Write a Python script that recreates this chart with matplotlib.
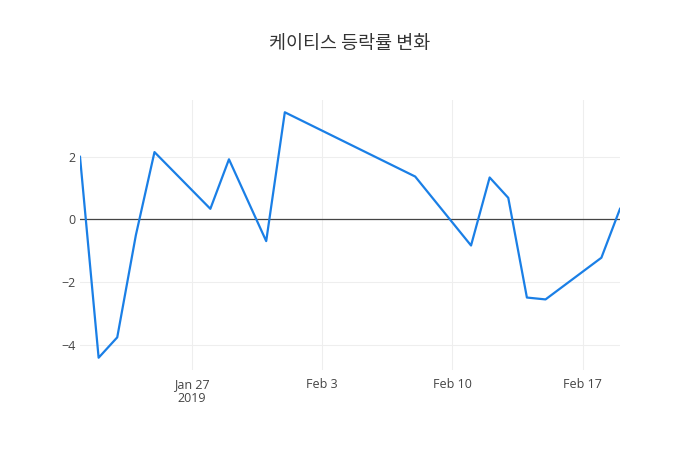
import matplotlib
matplotlib.use('Agg')
import matplotlib.pyplot as plt
import pandas as pd

plt.rcParams['font.family'] = ['Open Sans', 'Noto Sans CJK KR', 'DejaVu Sans']

dates = pd.to_datetime(['2019-01-21', '2019-01-22', '2019-01-23', '2019-01-24', '2019-01-25',
                        '2019-01-28', '2019-01-29', '2019-01-31', '2019-02-01', '2019-02-08',
                        '2019-02-11', '2019-02-12', '2019-02-13', '2019-02-14', '2019-02-15',
                        '2019-02-18', '2019-02-19'])
change = [2.0, -4.41, -3.76, -0.5, 2.15,
          0.34, 1.92, -0.69, 3.42, 1.37,
          -0.83, 1.34, 0.69, -2.49, -2.55,
          -1.22, 0.34]

xtick_dates = pd.to_datetime(['2019-01-27', '2019-02-03', '2019-02-10', '2019-02-17'])
xtick_labels = ['Jan 27\n2019', 'Feb 3', 'Feb 10', 'Feb 17']
ytick_vals = [-4, -2, 0, 2]

fig = plt.figure(figsize=(7, 4.5), dpi=100)
ax = fig.add_axes([80 / 700, 80 / 450, 540 / 700, 270 / 450])

ax.plot(dates, change, color='#1a7fe6', lw=1.6, zorder=3)
ax.axhline(0, color='#444444', lw=0.9, zorder=2)

lo, hi = min(change), max(change)
pad = (hi - lo) * 0.05
ax.set_ylim(lo - pad, hi + pad)
ax.set_xlim(dates[0], dates[-1])

ax.set_yticks(ytick_vals)
ax.set_yticklabels([str(v).replace('-', '\u2212') for v in ytick_vals])
ax.set_xticks(xtick_dates)
ax.set_xticklabels(xtick_labels, linespacing=1.05)

ax.grid(True, color='#eeeeee', lw=0.8, zorder=0)
for s in ax.spines.values():
    s.set_visible(False)
ax.tick_params(length=0, labelsize=9, colors='#444444', pad=6)
ax.tick_params(axis='y', pad=3)

fig.text(0.5, 1 - 44 / 450, '케이티스 등락률 변화', ha='center', va='center',
         fontsize=13.3, color='#333333', family=['Noto Sans CJK KR', 'DejaVu Sans'])

fig.savefig('out.png', dpi=100)
